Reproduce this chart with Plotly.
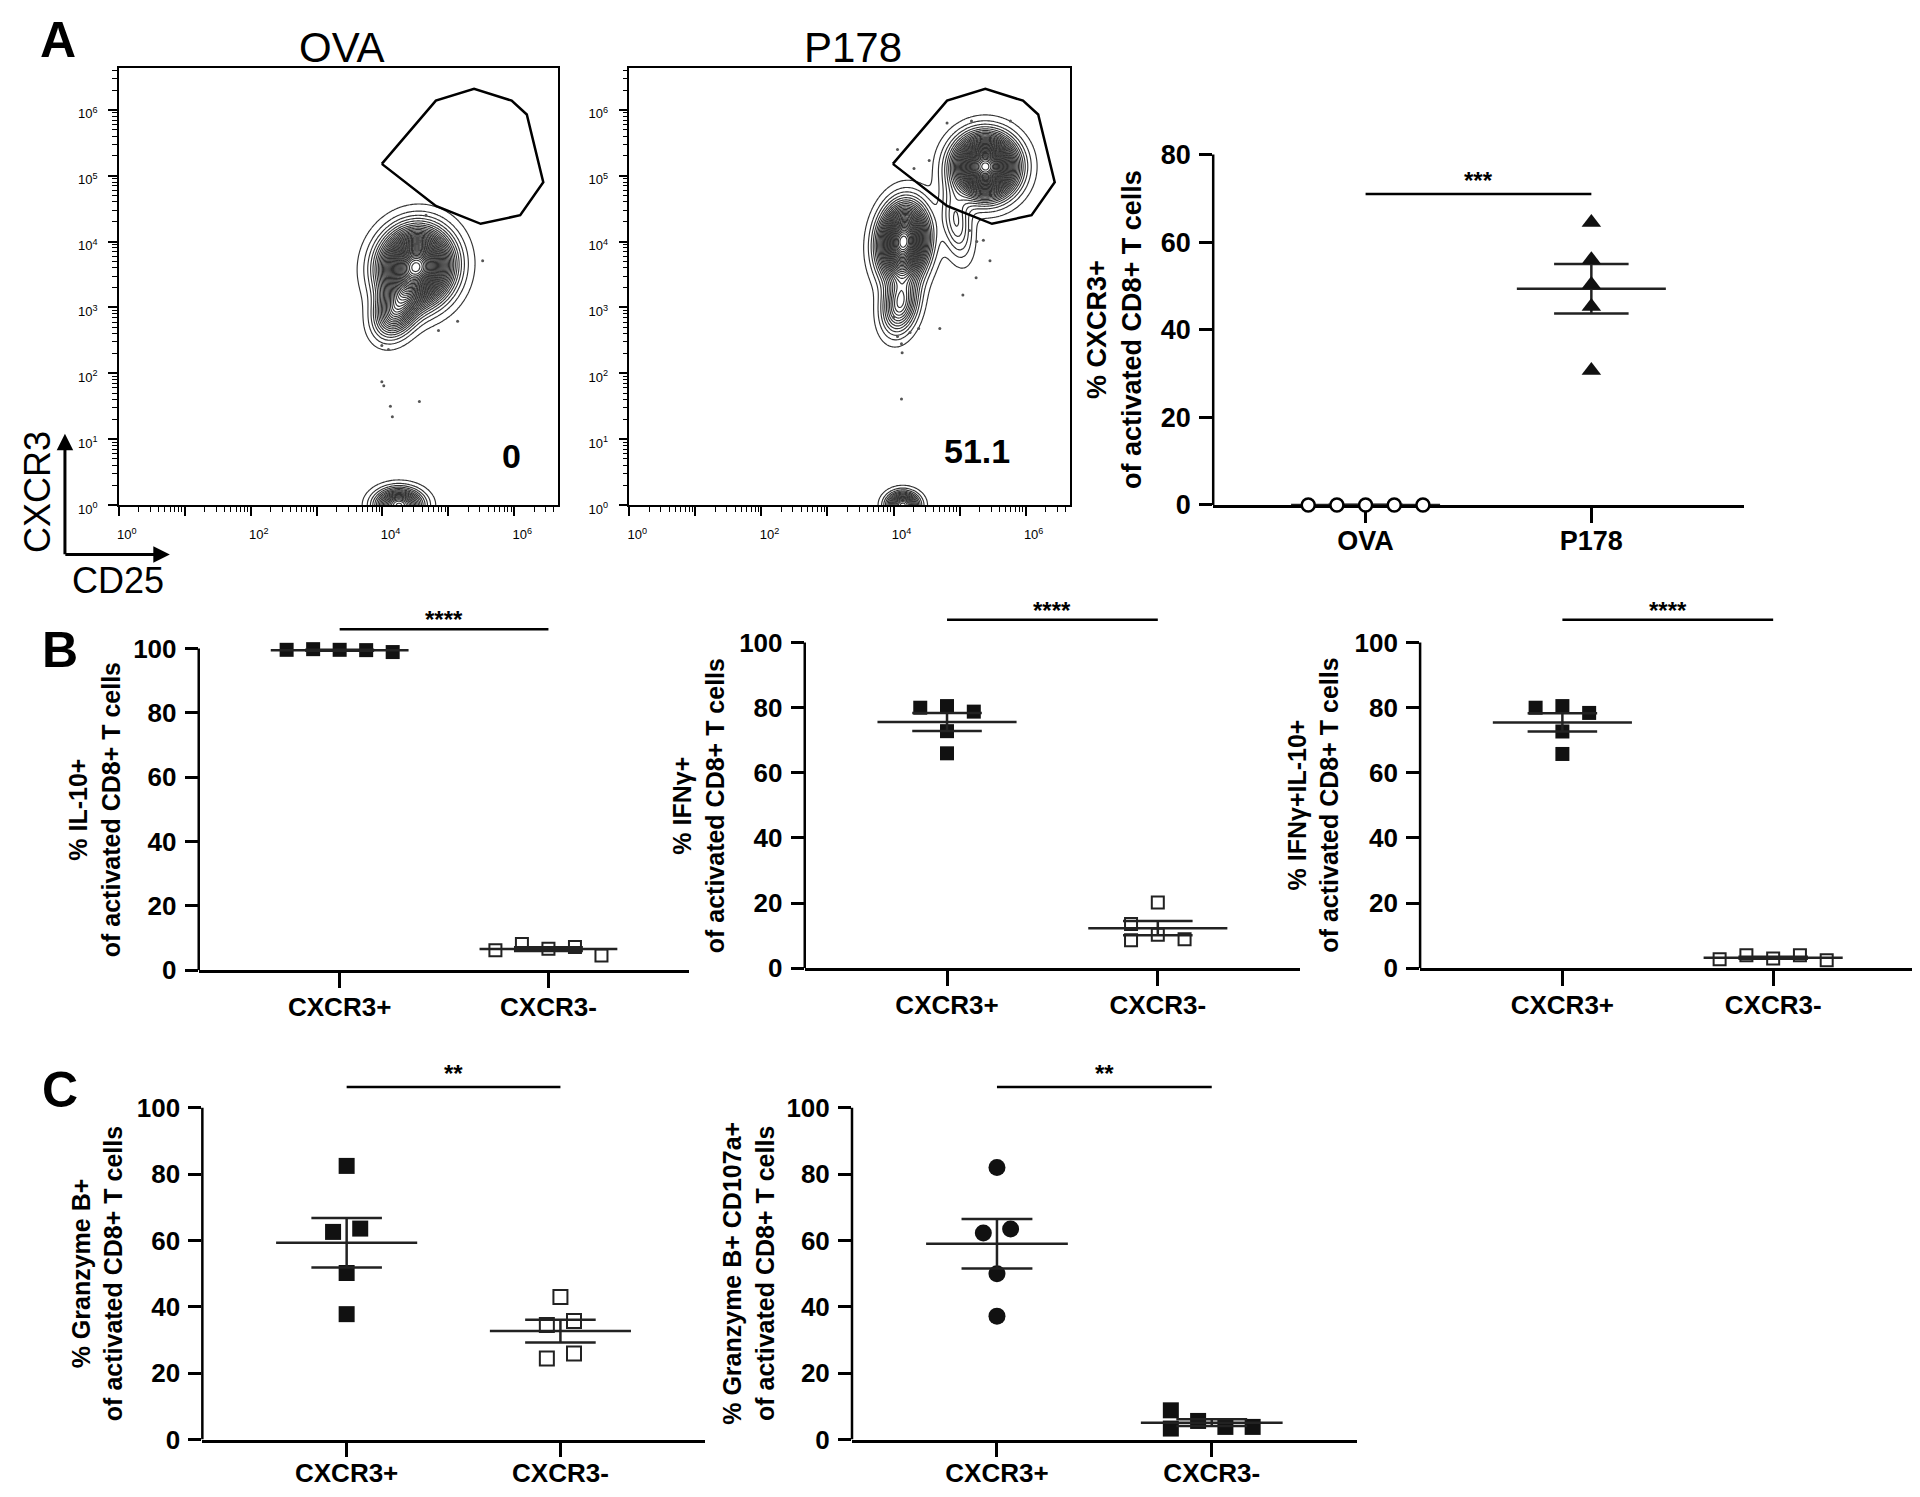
import numpy as np
import plotly.graph_objects as go

W, H = 1920, 1497
FONT = "Liberation Sans, Arial, Helvetica, sans-serif"

# ======================= DATA =======================
# ---- Panel A, flow plots (log10 fluorescence; x = CD25, y = CXCR3) ----
flow_titles = ["OVA", "P178"]
gate_pct = ["0", "51.1"]
gate_cd25 = [3.99, 4.81, 5.39, 5.96, 6.19, 6.44, 6.09, 5.49, 4.81, 3.99]
gate_cxcr3 = [5.18, 6.14, 6.32, 6.14, 5.93, 4.90, 4.40, 4.27, 4.54, 5.18]

# cell populations: centre, spread, correlation, relative weight
ova_pop_x = [4.51, 4.20, 4.25]
ova_pop_y = [3.62, 2.95, 0.00]
ova_pop_sx = [0.32, 0.20, 0.22]
ova_pop_sy = [0.34, 0.25, 0.15]
ova_pop_rho = [0.05, 0.25, 0.0]
ova_pop_w = [1.0, 0.35, 0.5]

p178_pop_x = [5.39, 4.15, 4.10, 4.95, 4.14]
p178_pop_y = [5.14, 4.00, 3.05, 4.30, 0.00]
p178_pop_sx = [0.28, 0.22, 0.17, 0.15, 0.15]
p178_pop_sy = [0.28, 0.34, 0.28, 0.35, 0.12]
p178_pop_rho = [0.0, 0.1, 0.2, -0.3, 0.0]
p178_pop_w = [1.0, 0.85, 0.3, 0.15, 0.45]

ova_evt_cd25 = [5.52, 4.66, 3.99, 4.09, 3.99, 4.02, 4.12, 4.56, 4.15, 5.14, 4.85]
ova_evt_cxcr3 = [3.71, 4.40, 2.42, 2.36, 1.87, 1.81, 1.50, 1.57, 1.34, 2.79, 2.65]
p178_evt_cd25 = [4.06, 4.31, 4.54, 4.81, 5.18, 5.77, 5.15, 5.26, 5.36, 5.46,
                 5.25, 5.05, 4.00, 4.06, 4.12, 4.13, 4.38, 4.70, 4.12, 4.25]
p178_evt_cxcr3 = [5.40, 5.11, 5.23, 5.80, 5.83, 5.83, 4.17, 4.00, 4.02, 3.71,
                  3.45, 3.19, 2.85, 2.56, 2.45, 2.31, 2.68, 2.68, 1.61, 2.62]

# ---- Panel A, summary ----
a_groups = ["OVA", "P178"]
a_ova = [0, 0, 0, 0, 0]
a_p178 = [64.5, 56.0, 50.3, 45.3, 30.7]

# ---- Panels B, C ----
bc_groups = ["CXCR3+", "CXCR3-"]
il10_pos = [99.6, 99.8, 99.5, 99.6, 98.9]
il10_neg = [6.7, 8.2, 7.2, 6.2, 4.6]
ifng_pos = [80.5, 80.0, 78.8, 72.8, 66.0]
ifng_neg = [20.2, 10.3, 13.6, 8.6, 8.9]
dbl_pos = [80.5, 80.0, 78.4, 72.7, 65.8]
dbl_neg = [3.0, 4.0, 4.0, 2.8, 2.5]
gzmb_pos = [82.5, 63.6, 62.6, 50.2, 37.8]
gzmb_neg = [43.0, 35.7, 34.5, 25.9, 24.4]
gc107_pos = [82.0, 63.5, 62.3, 50.0, 37.2]
gc107_neg = [3.8, 5.6, 3.8, 3.3, 8.8]

sig_labels = ["***", "****", "****", "****", "**", "**"]
y_titles = [
    "% CXCR3+<br>of activated CD8+ T cells",
    "% IL-10+<br>of activated CD8+ T cells",
    "% IFNγ+<br>of activated CD8+ T cells",
    "% IFNγ+IL-10+<br>of activated CD8+ T cells",
    "% Granzyme B+<br>of activated CD8+ T cells",
    "% Granzyme B+ CD107a+<br>of activated CD8+ T cells",
]

# ======================= HELPERS =======================
def xp(px):
    return px / W


def yp(py):
    return 1 - py / H


def label(text, x, y, size, angle=0):
    return dict(text=text, x=xp(x), y=yp(y), xref="paper", yref="paper", xanchor="center",
                yanchor="middle", textangle=angle, showarrow=False, font=dict(size=size))


fig = go.Figure()
layout = dict(
    width=W, height=H, margin=dict(l=0, r=0, t=0, b=0),
    paper_bgcolor="white", plot_bgcolor="white", showlegend=False,
    font=dict(family=FONT, color="black"),
)
annotations = []
shapes = []

# ======================= FLOW PLOTS =======================
FLOW_BOX = [(109, 549, 61, 502), (620, 1061, 61, 502)]
FX_RANGE = [0.0, 6.67]
FY_RANGE = [0.0, 6.63]
gx = np.linspace(FX_RANGE[0], FX_RANGE[1], 341)
gy = np.linspace(FY_RANGE[0], FY_RANGE[1], 333)
GX, GY = np.meshgrid(gx, gy)


def density(cx, cy, sx, sy, rho, w):
    z = np.zeros_like(GX)
    for a, b, c, d, r, k in zip(cx, cy, sx, sy, rho, w):
        dx = (GX - a) / c
        dy = (GY - b) / d
        q = (dx * dx - 2 * r * dx * dy + dy * dy) / (1 - r * r)
        z += k * np.exp(-0.5 * q)
    return z / z.max()


flow_sets = [
    (density(ova_pop_x, ova_pop_y, ova_pop_sx, ova_pop_sy, ova_pop_rho, ova_pop_w),
     ova_evt_cd25, ova_evt_cxcr3),
    (density(p178_pop_x, p178_pop_y, p178_pop_sx, p178_pop_sy, p178_pop_rho, p178_pop_w),
     p178_evt_cd25, p178_evt_cxcr3),
]
minor_vals = [d + np.log10(k) for d in range(-1, 7) for k in range(2, 10)]
minor_x = [v for v in minor_vals if FX_RANGE[0] < v < FX_RANGE[1]]
minor_y = [v for v in minor_vals if FY_RANGE[0] < v < FY_RANGE[1]]
dec = list(range(7))
dec_text = ["10<sup>%d</sup>" % d for d in dec]
dec_text_x = [t if d % 2 == 0 else "" for d, t in zip(dec, dec_text)]
pct_pos = [(5.96, 0.75), (5.26, 0.82)]

for i, (z, ex, ey) in enumerate(flow_sets):
    n = i + 1
    xa = "x" if n == 1 else "x%d" % n
    ya = "y" if n == 1 else "y%d" % n
    l, r, t, b = FLOW_BOX[i]
    fig.add_trace(go.Contour(
        x=gx, y=gy, z=z, xaxis=xa, yaxis=ya,
        contours=dict(start=0.02, end=0.99, size=0.026, coloring="lines"),
        colorscale=[[0, "#333333"], [1, "#333333"]], showscale=False,
        line=dict(width=1.15), hoverinfo="skip"))
    fig.add_trace(go.Scatter(x=ex, y=ey, xaxis=xa, yaxis=ya, mode="markers",
                             marker=dict(size=3, color="#555"), hoverinfo="skip"))
    fig.add_trace(go.Scatter(x=gate_cd25, y=gate_cxcr3, xaxis=xa, yaxis=ya, mode="lines",
                             line=dict(color="black", width=2.5), hoverinfo="skip"))
    common = dict(showline=True, linecolor="black", linewidth=1.5, mirror=True,
                  showgrid=False, zeroline=False, ticks="outside", ticklen=9,
                  tickwidth=1.5, tickcolor="black", tickfont=dict(size=13),
                  tickmode="array", tickvals=dec)
    layout["xaxis" if n == 1 else "xaxis%d" % n] = dict(
        common, domain=[xp(l), xp(r)], range=FX_RANGE, anchor=ya, ticktext=dec_text_x,
        ticklabelstandoff=8, ticklabelshift=8,
        minor=dict(tickmode="array", tickvals=minor_x, ticks="outside", ticklen=5,
                   tickwidth=1, tickcolor="black"))
    layout["yaxis" if n == 1 else "yaxis%d" % n] = dict(
        common, domain=[yp(b), yp(t)], range=FY_RANGE, anchor=xa, ticktext=dec_text,
        ticklabelstandoff=8, ticklabelshift=4,
        minor=dict(tickmode="array", tickvals=minor_y, ticks="outside", ticklen=5,
                   tickwidth=1, tickcolor="black"))
    annotations.append(label(flow_titles[i], (l + r) / 2 + 3, 40, 42))
    annotations.append(dict(text="<b>%s</b>" % gate_pct[i], x=pct_pos[i][0], y=pct_pos[i][1],
                            xref=xa, yref=ya, xanchor="center", yanchor="middle",
                            showarrow=False, font=dict(size=34)))

# axis legend (CXCR3 / CD25 arrows)
annotations += [
    label("CXCR3", 27, 489, 36, -90),
    label("CD25", 108, 578, 36),
    dict(text="", x=xp(55), y=yp(430), xref="paper", yref="paper", ax=0, ay=122,
         showarrow=True, arrowhead=2, arrowsize=1.1, arrowwidth=3, arrowcolor="black"),
    dict(text="", x=xp(160), y=yp(552), xref="paper", yref="paper", ax=-106, ay=0,
         showarrow=True, arrowhead=2, arrowsize=1.1, arrowwidth=3, arrowcolor="black"),
]
for letter, (lx, ly) in zip(["A", "B", "C"], [(48, 32), (50, 648), (50, 1093)]):
    annotations.append(label("<b>%s</b>" % letter, lx, ly, 50))

# ======================= DOT PLOTS =======================
SLOT = 0.127
MEAN_HW = 0.33
SEM_HW = 0.165
XR = [0.325, 2.675]

STY = {
    "open_circle": dict(symbol="circle", size=13, color="white", line=dict(color="black", width=2.5)),
    "triangle": dict(symbol="triangle-up", size=17, color="#111", line=dict(width=0)),
    "sq": dict(symbol="square", size=14, color="#111", line=dict(width=0)),
    "open_sq": dict(symbol="square", size=12, color="white", line=dict(color="#222", width=2)),
    "sqC": dict(symbol="square", size=16, color="#111", line=dict(width=0)),
    "open_sqC": dict(symbol="square", size=14, color="white", line=dict(color="#222", width=2)),
    "circC": dict(symbol="circle", size=17, color="#111", line=dict(width=0)),
}

dot_specs = [
    dict(groups=a_groups, data=(a_ova, a_p178), cat_px=(1357, 1583), y0=502, ppu=4.425,
         ymax=80, ytop=84, sig_y=71, styles=("open_circle", "triangle"), diam=15,
         standoff=-5, tfont=27, title_dx=-99, lines_under=True, star_shift=-2),
    dict(groups=bc_groups, data=(il10_pos, il10_neg), cat_px=(330, 539), y0=972, ppu=3.25,
         ymax=100, ytop=116, sig_y=106, styles=("sq", "open_sq"), diam=14,
         standoff=-3, tfont=26, title_dx=-104, lines_under=False, star_shift=-6),
    dict(groups=bc_groups, data=(ifng_pos, ifng_neg), cat_px=(938, 1149), y0=970, ppu=3.29,
         ymax=100, ytop=116, sig_y=107, styles=("sq", "open_sq"), diam=14,
         standoff=-3, tfont=26, title_dx=-106, lines_under=False, star_shift=-6),
    dict(groups=bc_groups, data=(dbl_pos, dbl_neg), cat_px=(1554, 1765), y0=970, ppu=3.29,
         ymax=100, ytop=116, sig_y=107, styles=("sq", "open_sq"), diam=14,
         standoff=-3, tfont=26, title_dx=-107, lines_under=False, star_shift=-6),
    dict(groups=bc_groups, data=(gzmb_pos, gzmb_neg), cat_px=(337, 551), y0=1446, ppu=3.35,
         ymax=100, ytop=116, sig_y=106.3, styles=("sqC", "open_sqC"), diam=17,
         standoff=-6, tfont=26, title_dx=-105, lines_under=False, star_shift=-2),
    dict(groups=bc_groups, data=(gc107_pos, gc107_neg), cat_px=(988, 1203), y0=1446, ppu=3.35,
         ymax=100, ytop=116, sig_y=106.3, styles=("circC", "sqC"), diam=17,
         standoff=-6, tfont=26, title_dx=-103, lines_under=False, star_shift=-2),
]


def swarm(values, ppu, diam):
    cols = []
    for v in values:
        for c in [0, -1, 1, -2, 2, -3, 3]:
            if all(not (pc == c and abs(pv - v) * ppu < diam) for pc, pv in zip(cols, values)):
                break
        cols.append(c)
    n = len(values)
    parent = list(range(n))

    def find(i):
        while parent[i] != i:
            i = parent[i]
        return i
    for i in range(n):
        for j in range(i + 1, n):
            if abs(values[i] - values[j]) * ppu < diam:
                parent[find(i)] = find(j)
    offs = [0.0] * n
    for root in set(find(i) for i in range(n)):
        members = [i for i in range(n) if find(i) == root]
        cs = [cols[i] for i in members]
        shift = -(min(cs) + max(cs)) / 2
        for i in members:
            offs[i] = (cols[i] + shift) * SLOT
    return offs


for k, sp in enumerate(dot_specs):
    n = k + 3
    xa, ya = "x%d" % n, "y%d" % n
    c1, c2 = sp["cat_px"]
    d = c2 - c1
    left = c1 - (1 - XR[0]) * d
    right = c2 + (XR[1] - 2) * d
    bottom = sp["y0"]
    top = sp["y0"] - sp["ytop"] * sp["ppu"]
    line_traces = []
    marker_traces = []
    for g, vals in enumerate(sp["data"]):
        cx = g + 1
        offs = swarm(vals, sp["ppu"], sp["diam"])
        m = float(np.mean(vals))
        s = float(np.std(vals, ddof=1) / np.sqrt(len(vals)))
        marker_traces.append(go.Scatter(
            x=[cx + o for o in offs], y=vals, xaxis=xa, yaxis=ya, mode="markers",
            marker=STY[sp["styles"][g]], cliponaxis=False, hoverinfo="skip"))
        line_traces.append(go.Scatter(
            x=[cx - MEAN_HW, cx + MEAN_HW, None, cx - SEM_HW, cx + SEM_HW, None,
               cx, cx, None, cx - SEM_HW, cx + SEM_HW],
            y=[m, m, None, m + s, m + s, None, m - s, m + s, None, m - s, m - s],
            xaxis=xa, yaxis=ya, mode="lines", line=dict(color="#222", width=2.5),
            hoverinfo="skip"))
    order = line_traces + marker_traces if sp["lines_under"] else marker_traces + line_traces
    for tr in order:
        fig.add_trace(tr)
    # significance bar
    fig.add_trace(go.Scatter(x=[1, 2], y=[sp["sig_y"], sp["sig_y"]], xaxis=xa, yaxis=ya,
                             mode="lines", line=dict(color="black", width=2.5),
                             hoverinfo="skip"))
    annotations.append(dict(text="<b>%s</b>" % sig_labels[k], x=1.5, y=sp["sig_y"], xref=xa,
                            yref=ya, xanchor="center", yanchor="bottom",
                            yshift=sp["star_shift"], showarrow=False, font=dict(size=24)))
    layout["xaxis%d" % n] = dict(
        domain=[xp(left), xp(right)], range=XR, anchor=ya, showline=True, linecolor="black",
        linewidth=2.5, showgrid=False, zeroline=False, ticks="outside", ticklen=15,
        tickwidth=2.5, tickcolor="black", tickmode="array", tickvals=[1, 2],
        ticktext=sp["groups"], tickfont=dict(size=sp["tfont"], weight="bold"),
        ticklabelstandoff=sp["standoff"], layer="below traces")
    layout["yaxis%d" % n] = dict(
        domain=[yp(bottom), yp(top)], range=[0, sp["ytop"]], anchor=xa, showline=False,
        showgrid=False, zeroline=False, ticks="outside", ticklen=13, tickwidth=2.5,
        tickcolor="black", tickmode="array", tickvals=list(range(0, sp["ymax"] + 1, 20)),
        tickfont=dict(size=sp["tfont"], weight="bold"), ticklabelstandoff=3)
    shapes.append(dict(type="line", xref="paper", yref=ya, x0=xp(left), x1=xp(left),
                       y0=0, y1=sp["ymax"], line=dict(color="black", width=2.5)))
    annotations.append(label("<b>%s</b>" % y_titles[k], left + sp["title_dx"],
                             bottom - sp["ymax"] / 2 * sp["ppu"], 25 if k else 27, -90))

layout["annotations"] = annotations
layout["shapes"] = shapes
fig.update_layout(**layout)
fig.write_html("out.html")
